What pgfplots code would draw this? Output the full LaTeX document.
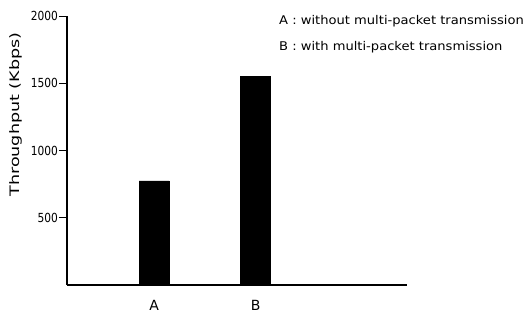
\documentclass[border=0pt]{standalone}
\usepackage{fontspec}
\setmainfont{DejaVu Sans}
\usepackage{graphicx}
\usepackage{pgfplots}
\pgfplotsset{compat=1.18}
\begin{document}
\begin{tikzpicture}
\begin{axis}[
  at={(0pt,0pt)}, anchor=south west,
  scale only axis,
  width=340pt, height=269pt,
  xmin=0.143, xmax=3.49,
  ymin=0, ymax=2000,
  axis x line=bottom, axis y line=left,
  axis line style={-, line width=1.1pt},
  xtick={1,2}, xticklabels={A,B},
  ytick={500,1000,1500,2000},
  tick align=outside,
  major tick length=8pt,
  x tick style={draw=none},
  y tick style={line width=1pt, black},
  /pgf/number format/assume math mode=true,
  /pgf/number format/1000 sep={},
  yticklabel style={font=\fontsize{12.5}{14}\selectfont, inner sep=1pt, xscale=0.85},
  xticklabel style={font=\fontsize{14}{16}\selectfont, yshift=-4pt},
  ybar, bar width=30pt,
  clip=false,
]
\addplot[fill=black, draw=black] coordinates {(1,775) (2,1550)};
\end{axis}
\node[rotate=90, font=\fontsize{13}{15}\selectfont] at (-51pt,170.5pt) {\scalebox{1.35}[1]{Throughput (Kbps)}};
\node[anchor=west, inner sep=0pt, font=\fontsize{12}{14}\selectfont] at (212pt,264pt) {\scalebox{1.09}[1]{A : without multi-packet transmission}};
\node[anchor=west, inner sep=0pt, font=\fontsize{12}{14}\selectfont] at (212pt,238pt) {\scalebox{1.09}[1]{B : with multi-packet transmission}};
\pgfresetboundingbox
\useasboundingbox (-67pt,-29pt) rectangle (465pt,285pt);
\end{tikzpicture}
\end{document}
